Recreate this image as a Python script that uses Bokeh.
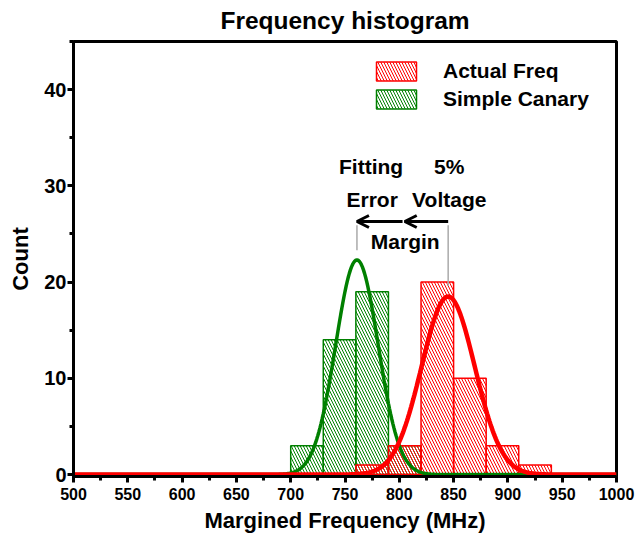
import numpy as np
from bokeh.plotting import figure
from bokeh.models import (Range1d, SingleIntervalTicker, Arrow, OpenHead, Legend,
                          LegendItem, ColumnDataSource)
from bokeh.core.properties import value
from bokeh.embed import file_html
from bokeh.resources import INLINE

# ---------------- data ----------------
bin_width = 30
actual_bins = [760, 790, 820, 850, 880, 910]      # left edges (MHz)
actual_counts = [1, 3, 20, 10, 3, 1]
canary_bins = [700, 730, 760, 790]
canary_counts = [3, 14, 19, 3]

# fitted normal curves (mean, sigma, peak height)
actual_mean, actual_sigma, actual_peak = 845, 24.5, 18.5
canary_mean, canary_sigma, canary_peak = 761, 19.5, 22.3

x_ticks_interval = 50
y_ticks_interval = 10

FONT = "Liberation Sans"

# ---------------- figure ----------------
p = figure(width=643, height=541, x_range=Range1d(500, 1000), y_range=Range1d(-0.2, 45),
           output_backend="svg", toolbar_location=None, title="Frequency histogram")
p.min_border_left = 73
p.min_border_right = 27
p.min_border_top = 41
p.min_border_bottom = 65
p.grid.visible = False
p.outline_line_color = "black"
p.outline_line_width = 3
p.background_fill_color = "white"
p.border_fill_color = "white"

p.title.text_font = FONT
p.title.text_font_size = "24.5px"
p.title.text_font_style = "bold"
p.title.align = "center"
p.title.vertical_align = "top"
p.title.text_color = "black"
p.title.standoff = 12
p.title.offset = 4

p.xaxis.ticker = SingleIntervalTicker(interval=x_ticks_interval, num_minor_ticks=2)
p.yaxis.ticker = SingleIntervalTicker(interval=y_ticks_interval, num_minor_ticks=2)
for ax in (p.xaxis, p.yaxis):
    ax.axis_line_width = 3
    ax.axis_line_color = "black"
    ax.major_tick_line_width = 3
    ax.major_tick_out = 6
    ax.major_tick_in = 0
    ax.minor_tick_line_width = 3
    ax.minor_tick_out = 4
    ax.minor_tick_in = 0
    ax.major_label_text_font = FONT
    ax.major_label_text_font_style = "bold"
    ax.major_label_text_color = "black"
    ax.axis_label_text_font = FONT
    ax.axis_label_text_font_style = "bold"
    ax.axis_label_text_font_size = "22px"
    ax.axis_label_text_color = "black"

p.xaxis.major_label_text_font_size = "16px"
p.xaxis.major_label_standoff = 5
p.xaxis.axis_label = "Margined Frequency (MHz)"
p.xaxis.axis_label_standoff = 5

p.yaxis.major_label_text_font_size = "20px"
p.yaxis.major_label_standoff = 1
p.yaxis.axis_label = "Count"
p.yaxis.axis_label_standoff = 8

# ---------------- bars ----------------
src_a = ColumnDataSource(dict(x=[b + bin_width / 2 for b in actual_bins], top=actual_counts))
src_c = ColumnDataSource(dict(x=[b + bin_width / 2 for b in canary_bins], top=canary_counts))

r_c = p.vbar(x="x", top="top", width=bin_width, bottom=0, source=src_c,
             fill_color=None, line_color="green", line_width=1.5,
             hatch_pattern="left_diagonal_line", hatch_color="green",
             hatch_scale=6, hatch_weight=1)
r_a = p.vbar(x="x", top="top", width=bin_width, bottom=0, source=src_a,
             fill_color=None, line_color="red", line_width=1.5,
             hatch_pattern="left_diagonal_line", hatch_color="red",
             hatch_scale=6, hatch_weight=1)

# ---------------- fitted curves ----------------
xs = np.linspace(500, 1000, 501)
ya = actual_peak * np.exp(-0.5 * ((xs - actual_mean) / actual_sigma) ** 2)
yc = canary_peak * np.exp(-0.5 * ((xs - canary_mean) / canary_sigma) ** 2)
p.line(xs, yc, line_color="green", line_width=3.5)
p.line(xs, ya, line_color="red", line_width=4.5)

# ---------------- annotations ----------------
p.segment(x0=[761, 845], y0=[25.9, 25.9], x1=[761, 845], y1=[23.3, 19.6],
          line_color="#aaaaaa", line_width=1.5)
p.add_layout(Arrow(end=OpenHead(size=12, line_width=3), x_start=845, y_start=26.3,
                   x_end=805, y_end=26.3, line_width=3))
p.add_layout(Arrow(end=OpenHead(size=12, line_width=3), x_start=803, y_start=26.3,
                   x_end=761, y_end=26.3, line_width=3))

ann = ColumnDataSource(dict(x=[774, 775, 846, 846, 805.5],
                            y=[32.0, 28.6, 32.0, 28.6, 24.2],
                            t=["Fitting", "Error", "5%", "Voltage", "Margin"]))
p.text(x="x", y="y", text="t", source=ann, text_align="center", text_baseline="middle",
       text_font=value(FONT), text_font_style="bold", text_font_size="21px",
       text_color="black")

# ---------------- legend ----------------
legend = Legend(items=[LegendItem(label="Actual Freq", renderers=[r_a]),
                       LegendItem(label="Simple Canary", renderers=[r_c])],
                location=(298, 365), padding=0, spacing=4, glyph_width=50, glyph_height=24,
                label_standoff=22, label_text_font=FONT, label_text_font_size="21px",
                label_text_font_style="bold", label_text_color="black",
                border_line_color=None, background_fill_alpha=0)
p.add_layout(legend)

open("out.html", "w").write(file_html(p, INLINE))
